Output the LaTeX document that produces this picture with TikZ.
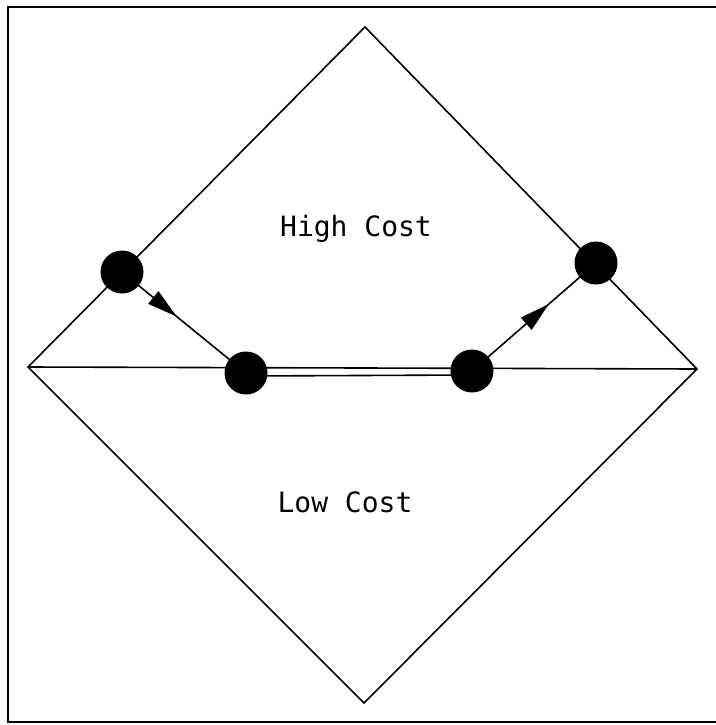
\documentclass[tikz,border=0pt]{standalone}
\usepackage{fontspec}
\setmonofont{DejaVu Sans Mono}
\usetikzlibrary{arrows.meta,decorations.markings}
\tikzset{
  ln/.style={line width=1.6pt, black},
  dot/.style={circle, fill=black, minimum size=43pt, inner sep=0pt},
  lbl/.style={font=\ttfamily\fontsize{28}{30}\selectfont, inner sep=0pt},
  midarrow/.style={postaction={decorate, decoration={markings,
     mark=at position #1 with {\arrow{Triangle[length=30pt,width=16pt]}}}}}
}
\begin{document}
\begin{tikzpicture}[x=1pt,y=-1pt]
\useasboundingbox (0,0) rectangle (715,725);
% frame
\draw[ln] (720,7) -- (8,7) -- (8,722) -- (720,722);
% diamond
\coordinate (T) at (365,27);
\coordinate (R) at (697,369);
\coordinate (B) at (364,703);
\coordinate (L) at (28,367);
\draw[ln] (T) -- (R) -- (B) -- (L) -- cycle;
\draw[ln] (L) -- (R);
% dots
\node[dot] (d1) at (122,272) {};
\node[dot] (d2) at (246,373) {};
\node[dot] (d3) at (472,371) {};
\node[dot] (d4) at (596,263) {};
\draw[ln] ([yshift=-3pt]d2.center) -- ([yshift=-4pt]d3.center);
\draw[ln, midarrow=0.44] (d1.center) -- (d2.center);
\draw[ln, midarrow=0.62] (d3.center) -- (d4.center);
% labels
\node[lbl] (hc) at (356,229) {High Cost};
\node[lbl] (lc) at (345,502) {Low Cost};
\end{tikzpicture}
\end{document}
